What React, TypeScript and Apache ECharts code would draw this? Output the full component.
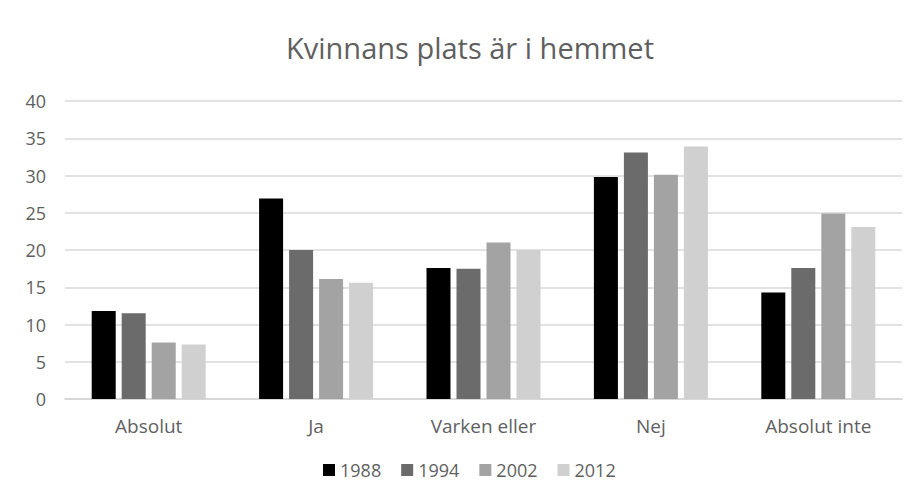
import React, { useEffect, useRef } from "react";
import * as echarts from "echarts";

const categories = ["Absolut", "Ja", "Varken eller", "Nej", "Absolut inte"];
const seriesNames = ["1988", "1994", "2002", "2012"];
const values1988 = [11.8, 26.9, 17.6, 29.8, 14.3];
const values1994 = [11.5, 20.0, 17.5, 33.1, 17.6];
const values2002 = [7.6, 16.1, 21.0, 30.1, 24.9];
const values2012 = [7.3, 15.6, 20.0, 33.9, 23.1];
const colors = ["#000000", "#6b6b6b", "#a3a3a3", "#d0d0d0"];
const yTicks = [0, 5, 10, 15, 20, 25, 30, 35, 40];

const FONT = "'Open Sans', Lato, sans-serif";

export default function App() {
  const ref = useRef<HTMLDivElement>(null);
  useEffect(() => {
    if (!ref.current) return;
    const chart = echarts.init(ref.current, undefined, { renderer: "svg" });
    const allValues = [values1988, values1994, values2002, values2012];
    chart.setOption({
      animation: false,
      backgroundColor: "#ffffff",
      textStyle: { fontFamily: FONT },
      title: {
        text: "Kvinnans plats är i hemmet",
        left: 281,
        top: 28,
        textStyle: { fontFamily: FONT, fontSize: 29, fontWeight: "normal", color: "#5f5f5f" },
      },
      legend: {
        data: seriesNames,
        bottom: 0,
        left: 318,
        itemWidth: 12,
        itemHeight: 12,
        itemGap: 20,
        icon: "rect",
        textStyle: { fontFamily: FONT, fontSize: 18, color: "#5f5f5f" },
      },
      grid: { left: 65, right: 10, top: 101, bottom: 85 },
      xAxis: {
        type: "category",
        data: categories,
        axisLine: { lineStyle: { color: "#d4d4d4", width: 1.5 } },
        axisTick: { show: false },
        axisLabel: { fontFamily: FONT, fontSize: 19, color: "#5f5f5f", margin: 17 },
      },
      yAxis: {
        type: "value",
        min: yTicks[0],
        max: yTicks[yTicks.length - 1],
        interval: 5,
        axisLine: { show: false },
        axisTick: { show: false },
        axisLabel: { fontFamily: FONT, fontSize: 18, color: "#5f5f5f", margin: 19 },
        splitLine: { lineStyle: { color: "#d9d9d9", width: 1.5 } },
      },
      series: seriesNames.map((name, i) => ({
        name,
        type: "bar",
        data: allValues[i],
        barWidth: 24,
        barGap: "25%",
        itemStyle: { color: colors[i] },
      })),
    });
    return () => chart.dispose();
  }, []);
  return (
    <div
      ref={ref}
      style={{ position: "fixed", left: 0, top: 0, width: 912, height: 484 }}
    />
  );
}
